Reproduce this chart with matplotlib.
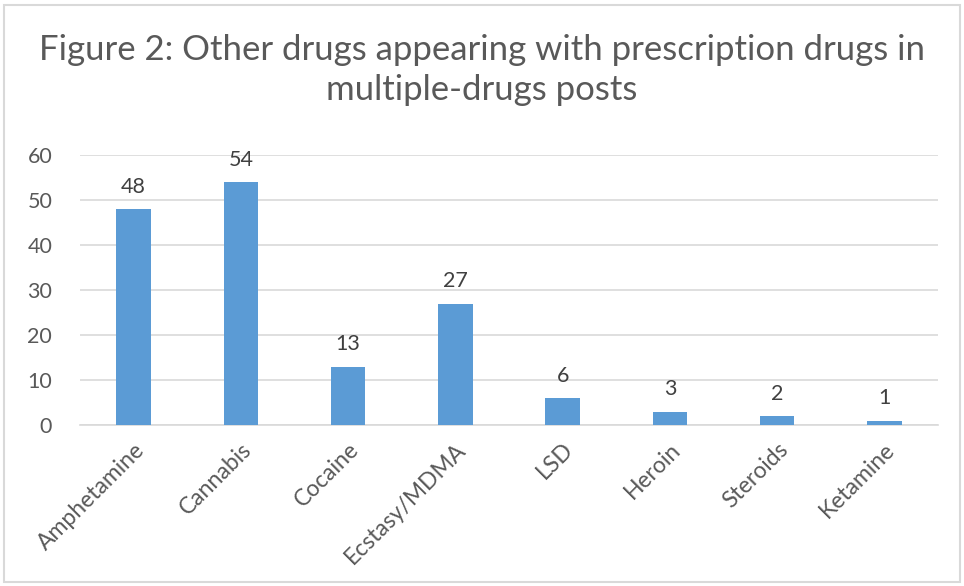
import matplotlib
matplotlib.use("Agg")
import matplotlib.pyplot as plt
from matplotlib.patches import Rectangle

categories = ["Amphetamine", "Cannabis", "Cocaine", "Ecstasy/MDMA", "LSD", "Heroin", "Steroids", "Ketamine"]
values = [48, 54, 13, 27, 6, 3, 2, 1]
yticks = [0, 10, 20, 30, 40, 50, 60]

plt.rcParams['font.family'] = ['Lato', 'DejaVu Sans']
text_color = "#595959"
bar_color = "#5B9BD5"

fig = plt.figure(figsize=(9.64, 5.86), dpi=100)
fig.patches.append(Rectangle((0.004, 0.007), 0.992, 0.985, transform=fig.transFigure,
                             fill=False, edgecolor="#D9D9D9", linewidth=1.5))
ax = fig.add_axes([80/964, 1-425/586, (938-80)/964, (425-155)/586])

x = list(range(len(categories)))
bars = ax.bar(x, values, width=0.32, color=bar_color, zorder=3)
for xi, v in zip(x, values):
    ax.annotate(str(v), (xi, v), xytext=(0, 9), textcoords="offset points",
                ha="center", va="bottom", fontsize=15.5, color="#404040")

ax.set_xlim(-0.5, len(categories) - 0.5)
ax.set_ylim(0, 60)
ax.set_yticks(yticks)
ax.set_yticklabels([str(t) for t in yticks], fontsize=15.5, color=text_color)
ax.set_xticks(x)
ax.set_xticklabels(categories, rotation=45, ha="right", rotation_mode="anchor",
                   fontsize=16.5, color=text_color)
ax.tick_params(axis="both", length=0)
ax.tick_params(axis="y", pad=20)
ax.tick_params(axis="x", pad=10)
ax.grid(axis="y", color="#D9D9D9", linewidth=1.2, zorder=0)
for s in ["top", "right", "left"]:
    ax.spines[s].set_visible(False)
ax.spines["bottom"].set_color("#D9D9D9")
ax.spines["bottom"].set_linewidth(1.2)

fig.text(0.5, 1-50/586, "Figure 2: Other drugs appearing with prescription drugs in",
         ha="center", va="center", fontsize=25, color=text_color)
fig.text(0.5, 1-90/586, "multiple-drugs posts",
         ha="center", va="center", fontsize=25, color=text_color)

fig.savefig("out.png", dpi=100)
